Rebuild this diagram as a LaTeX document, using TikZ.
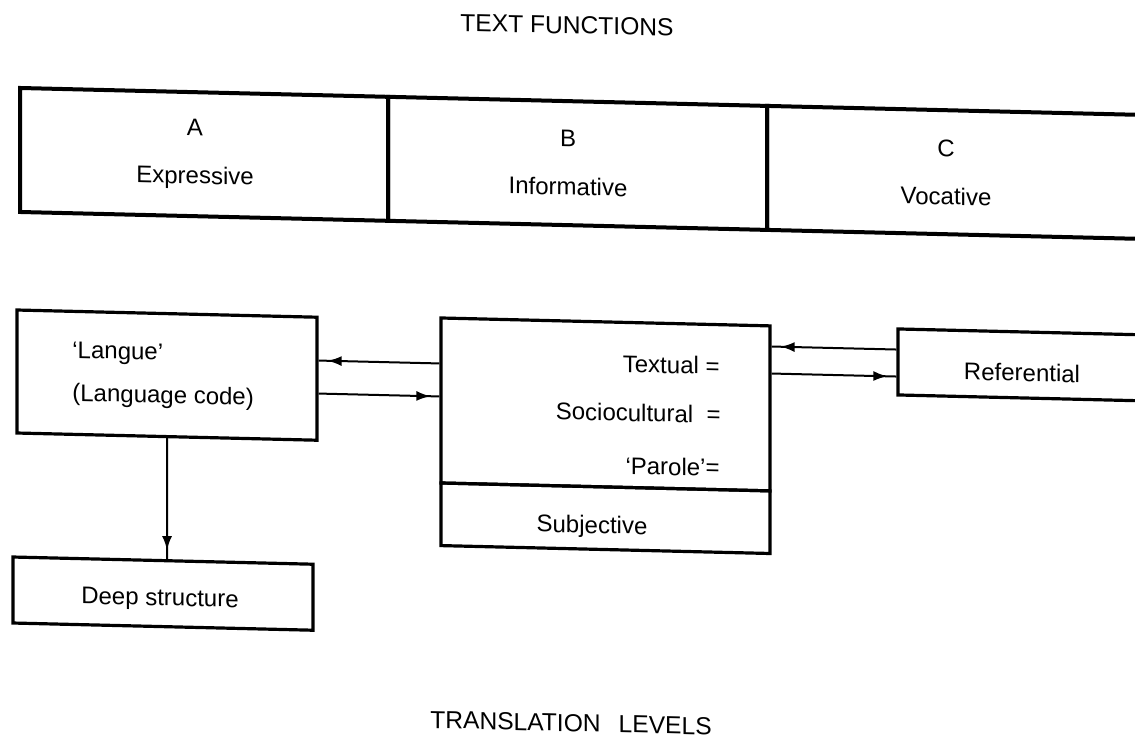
\documentclass[tikz,border=0pt]{standalone}
\usepackage{fontspec}
\setmainfont{Liberation Sans}
\usetikzlibrary{arrows.meta,decorations.markings}

\begin{document}
\begin{tikzpicture}[x=0.5pt,y=-0.5pt,
  txt/.style={font=\fontsize{12}{14}\selectfont, inner sep=0pt},
  box/.style={draw, line width=1.6pt, inner sep=0pt, txt},
  topcell/.style={box, line width=2pt, minimum height=62pt},
  cellname/.style={txt, align=center},
  heading/.style={font=\fontsize{12.3}{14}\selectfont, inner sep=0pt},
  conn/.style={line width=1pt},
  headnear/.style={postaction={decorate},
    decoration={markings, mark=at position -4.5pt with {\arrow{Latex[length=7pt,width=5pt]}}}}
]
\useasboundingbox (0,0) rectangle (1135,740);
\fill[white] (0,0) rectangle (1135,740);

\begin{scope}[transform canvas={yslant=-0.024}]
  % headings
  \node[heading] (tfun) at (567,11.5) {TEXT FUNCTIONS};
  \node[heading] (tlev) at (571,709.3) {TRANSLATION\hspace{9pt}LEVELS};

  % text functions row
  \node[topcell, minimum width=184pt]   (cellA) at (204,149.5) {};
  \node[topcell, minimum width=189.5pt] (cellB) at (577.5,149.5) {};
  \node[topcell, minimum width=191.5pt] (cellC) at (958.5,149.5) {};
  \node[cellname] (labA) at (195,149.3) {A\\[10pt]Expressive};
  \node[cellname] (labB) at (568,149.4) {B\\[10pt]Informative};
  \node[cellname] (labC) at (946,149.8) {C\\[10pt]Vocative};

  % translation levels
  \node[box, minimum width=150pt, minimum height=61.5pt] (langue) at (167,371.1) {};
  \node[txt, anchor=west] (langueA) at (72,350.6) {‘Langue’};
  \node[txt, anchor=west] (langueB) at (72,393) {(Language code)};

  \node[box, minimum width=164.5pt, minimum height=82.5pt] (mid) at (605.5,389.9) {};
  \node[box, minimum width=164.5pt, minimum height=31.3pt] (subj) at (605.5,503.7) {};
  \node[txt, anchor=east] (textual) at (720,348.7) {Textual =};
  \node[txt, anchor=east] (socio)   at (721,397.4) {Sociocultural\ \ =};
  \node[txt, anchor=east] (parole)  at (720,450.4) {‘Parole’=};
  \node[txt] (subjlab) at (592,512.8) {Subjective};

  \node[box, minimum width=126pt, minimum height=33pt] (ref) at (1024,340.4) {};
  \node[txt] (reflab) at (1022,348) {Referential};
  \node[box, minimum width=150pt, minimum height=33pt] (deep) at (163,589.7) {};
  \node[txt] (deeplab) at (160,596) {Deep structure};

  % connectors
  \path ([yshift=9.1pt]langue.east) coordinate (lup);
  \path ([yshift=-7.4pt]langue.east) coordinate (ldown);
  \path ([yshift=30.95pt]mid.east) coordinate (rup);
  \path ([yshift=17.45pt]mid.east) coordinate (rdown);

  \draw[conn, headnear] (mid.west |- lup) -- (lup);
  \draw[conn, headnear] (ldown) -- (ldown -| mid.west);
  \draw[conn, headnear] (rup -| ref.west) -- (rup);
  \draw[conn, headnear] (rdown) -- (rdown -| ref.west);
  \draw[conn, headnear] (langue.south) -- (langue.south |- deep.north);
\end{scope}
\end{tikzpicture}
\end{document}
